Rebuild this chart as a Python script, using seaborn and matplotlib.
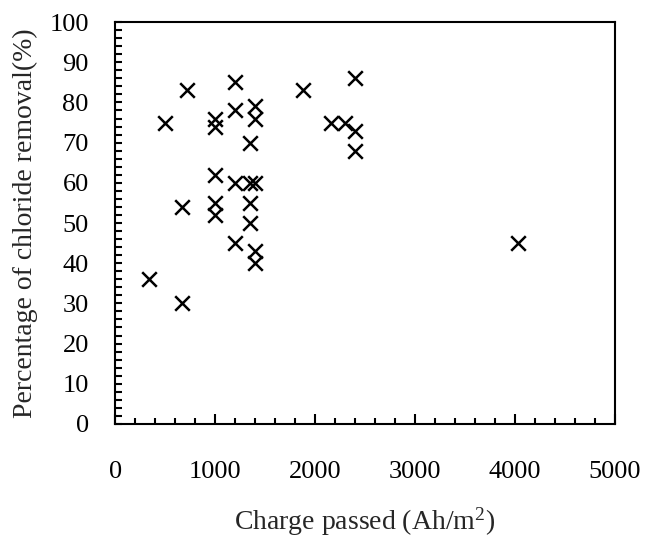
import numpy as np
import pandas as pd
import matplotlib.pyplot as plt
import seaborn as sns
from matplotlib.ticker import MultipleLocator

# charge passed (Ah/m2) and chloride removal (%)
charge = [340, 500, 720, 670, 670,
          1000, 1000, 1000, 1000, 1000,
          1200, 1200, 1200, 1200,
          1350, 1350, 1400, 1350, 1350,
          1400, 1400, 1400, 1400,
          1880, 2160, 2300, 2400, 2400, 2400, 4030]
removal = [36, 75, 83, 54, 30,
           76, 74, 62, 55, 52,
           85, 78, 60, 45,
           70, 60, 60, 55, 50,
           79, 76, 43, 40,
           83, 75, 75, 86, 73, 68, 45]

data = pd.DataFrame({'charge': charge, 'removal': removal})

sns.set_style('white')
plt.rcParams['font.family'] = ['Liberation Serif', 'DejaVu Serif']
plt.rcParams['mathtext.fontset'] = 'custom'
plt.rcParams['mathtext.rm'] = 'Liberation Serif'

fig = plt.figure(figsize=(6.47, 5.38), dpi=100)
ax = fig.add_axes([0.178, 0.212, 0.772, 0.747])

sns.scatterplot(data=data, x='charge', y='removal', marker='x', color='black',
                s=110, linewidth=1.8, ax=ax, legend=False)

ax.set_xlim(0, 5000)
ax.set_ylim(0, 100)
ax.xaxis.set_major_locator(MultipleLocator(1000))
ax.xaxis.set_minor_locator(MultipleLocator(200))
ax.yaxis.set_major_locator(MultipleLocator(10))
ax.yaxis.set_minor_locator(MultipleLocator(2))

ax.tick_params(axis='both', which='both', direction='in', color='black', width=1.5,
               labelsize=19, labelcolor='black')
ax.tick_params(axis='x', which='major', length=7, pad=27)
ax.tick_params(axis='x', which='minor', length=4)
ax.tick_params(axis='y', which='major', length=5, pad=19)
ax.tick_params(axis='y', which='minor', length=5)
ax.tick_params(bottom=True, left=True, which='both')

for side in ax.spines.values():
    side.set_color('black')
    side.set_linewidth(1.5)
    side.set_visible(True)

ax.set_xlabel('Charge passed (Ah/m$\\mathrm{^{2}}$)', fontsize=20, labelpad=16)
ax.set_ylabel('Percentage of chloride removal(%)', fontsize=20, labelpad=8)

fig.savefig('out.png', dpi=100)
